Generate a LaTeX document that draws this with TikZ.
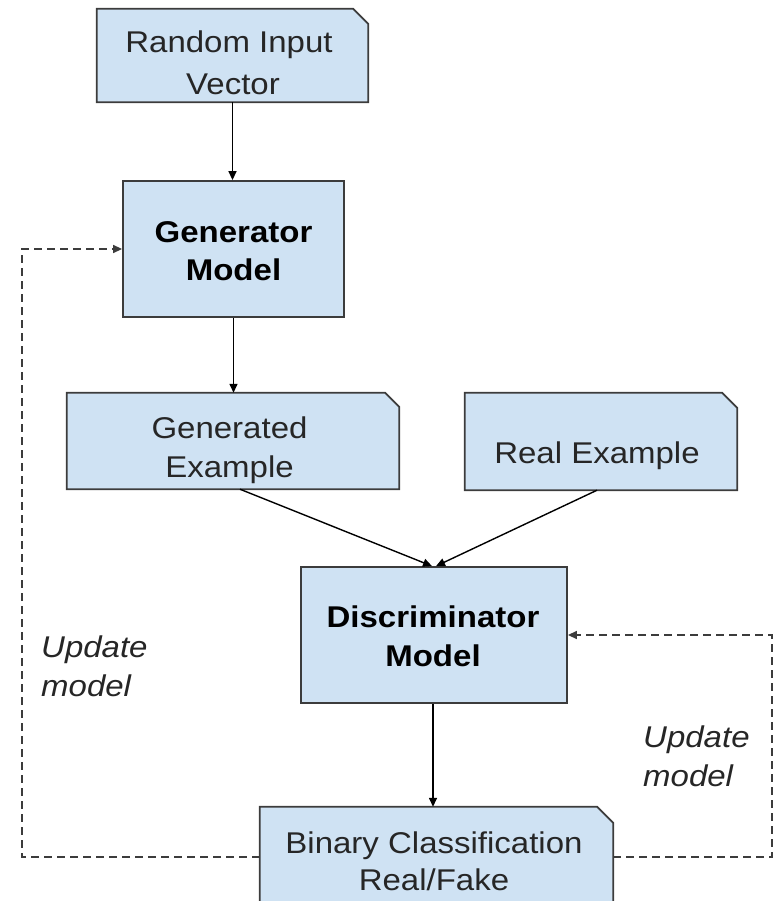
\documentclass[tikz,border=0pt]{standalone}
\usepackage{fontspec}
\setmainfont{Liberation Sans}[FakeStretch=1.1]
\usetikzlibrary{arrows.meta}
\definecolor{boxfill}{HTML}{CFE2F3}
\definecolor{boxline}{HTML}{3C3C3C}
\definecolor{txtcol}{HTML}{262626}
\newcommand\chamfbox[2]{\filldraw[chamf] (#1.south west) -- (#1.north west) -- ([xshift=-#2]#1.north east) -- ([yshift=-#2]#1.north east) -- (#1.south east) -- cycle;}
\begin{document}
\begin{tikzpicture}[x=1pt,y=-1pt,
  box/.style={draw=boxline, fill=boxfill, line width=1.8pt, inner sep=0pt},
  shell/.style={inner sep=0pt, draw=none, fill=none},
  chamf/.style={draw=boxline, fill=boxfill, line width=1.8pt, line join=miter},
  txt/.style={anchor=base, inner sep=0pt, text=txtcol, font=\fontsize{30pt}{40pt}\selectfont},
  btxt/.style={anchor=base, inner sep=0pt, text=black, font=\fontsize{30pt}{40pt}\selectfont\bfseries},
  itxt/.style={anchor=base west, inner sep=0pt, text=txtcol, font=\fontsize{30pt}{40pt}\selectfont\itshape},
  arr/.style={-{Triangle[length=9pt,width=8pt]}, line width=1.4pt, draw=black},
  darr/.style={-{Triangle[length=9pt,width=8pt]}, line width=1.4pt, draw=boxline, dash pattern=on 8pt off 5pt}]
\useasboundingbox (0,0) rectangle (780,901);
\clip (0,0) rectangle (780,901);

% boxes
\node[shell, minimum width=271pt, minimum height=93pt] (rand) at (232.5,55.5) {};
\chamfbox{rand}{15pt}
\node[box, minimum width=221pt, minimum height=136pt] (gen) at (233.5,249) {};
\node[shell, minimum width=332pt, minimum height=96pt] (genex) at (233,441) {};
\chamfbox{genex}{14pt}
\node[shell, minimum width=272pt, minimum height=97pt] (real) at (601,441.5) {};
\chamfbox{real}{15pt}
\node[box, minimum width=266pt, minimum height=136pt] (disc) at (434,635) {};
\node[shell, minimum width=353pt, minimum height=100pt] (bin) at (436.5,857) {};
\chamfbox{bin}{16pt}

% texts
\node[txt] (trand1) at (229,53) {Random Input};
\node[txt] (trand2) at (233,95) {Vector};
\node[btxt] (tgen1) at (233.5,243) {Generator};
\node[btxt] (tgen2) at (233.5,280) {Model};
\node[txt] (tgex1) at (229.5,438) {Generated};
\node[txt] (tgex2) at (229.5,477) {Example};
\node[txt] (treal) at (597,463) {Real Example};
\node[btxt] (tdisc1) at (433,627) {Discriminator};
\node[btxt] (tdisc2) at (433,666) {Model};
\node[txt] (tbin1) at (434,853) {Binary Classification};
\node[txt] (tbin2) at (434,890) {Real/Fake};
\node[itxt] (tupl1) at (41,657) {Update};
\node[itxt] (tupl2) at (41,696) {model};
\node[itxt] (tupr1) at (643,747) {Update};
\node[itxt] (tupr2) at (643,786) {model};

% connectors
\coordinate (lx) at (22,0);
\coordinate (rx) at (772,0);
\draw[arr] (rand.south) -- (rand.south |- gen.north);
\draw[arr] (gen.south) -- (gen.south |- genex.north);
\draw[arr] ([xshift=7pt]genex.south) -- ([xshift=-2pt]disc.north);
\draw[arr] ([xshift=-4pt]real.south) -- ([xshift=2pt]disc.north);
\draw[arr] ([xshift=-1pt]disc.south) -- ([xshift=-1pt]disc.south |- bin.north);
\draw[darr] (bin.west) -- (bin.west -| lx) |- (gen.west);
\draw[darr] (bin.east) -- (bin.east -| rx) |- (disc.east);
\end{tikzpicture}
\end{document}
